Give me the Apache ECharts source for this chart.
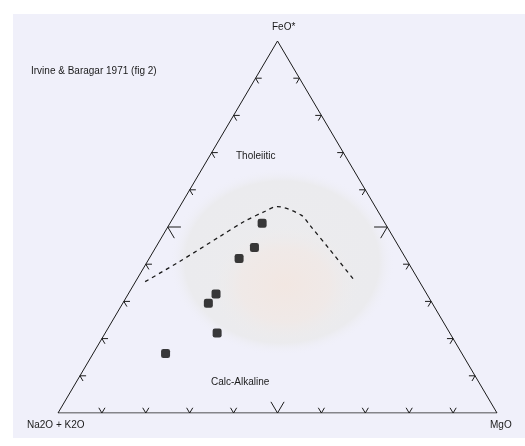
<!DOCTYPE html>
<html>
<head>
<meta charset="utf-8">
<script src="https://cdn.jsdelivr.net/npm/echarts@6/dist/echarts.min.js"></script>
<style>
  html, body { margin: 0; padding: 0; background: #fff; }
  #main { width: 525px; height: 446px; }
</style>
</head>
<body>
<div id="main"></div>
<script>
// AFM samples: Na2O+K2O (A), FeO* (F), MgO (M), in %
const sampleA = [28, 33, 38, 48, 51, 53, 67.5];
const sampleF = [51, 44.5, 41.5, 32, 29.5, 21.5, 16];
const sampleM = [21, 22.5, 20.5, 20, 19.5, 25.5, 16.5];

// Irvine & Baragar 1971 tholeiitic / calc-alkaline boundary
const lineA = [62.5, 52, 39.5, 32, 26, 22.3, 18, 17.4, 16.1, 14.7];
const lineF = [35.3, 40.7, 47.4, 51.4, 54.1, 55.5, 53.2, 50.5, 43.8, 35.8];
const lineM = [2.2, 7.3, 13.1, 16.6, 19.9, 22.2, 28.8, 32.1, 40.1, 49.5];

// tick positions along each side (%)
const tickValues = [10, 20, 30, 40, 50, 60, 70, 80, 90];

// ternary -> plane (x = M + F/2, y = F)
function tern(a, f, m) {
  const s = a + f + m;
  f = f / s * 100;
  m = m / s * 100;
  return [m + f / 2, f];
}

const samples = sampleA.map((a, i) => tern(a, sampleF[i], sampleM[i]));
const boundary = lineA.map((a, i) => tern(a, lineF[i], lineM[i]));
const outline = [tern(100, 0, 0), tern(0, 0, 100), tern(0, 100, 0), tern(100, 0, 0)];

// little chevrons on the sides, arms follow the other two grid directions
let ticks = [];
tickValues.forEach((t) => {
  const L = t === 50 ? 3 : 1.4;
  // bottom side (F = 0), M = t
  ticks.push([t - L / 2, L], [t, 0], [t + L / 2, L], '-');
  // left side (M = 0), F = t
  ticks.push([t / 2 + L, t], [t / 2, t], [t / 2 + L / 2, t - L], '-');
  // right side (A = 0), F = t
  ticks.push([100 - t / 2 - L, t], [100 - t / 2, t], [100 - t / 2 - L / 2, t - L], '-');
});

const txt = { fill: '#1a1a1a', fontFamily: 'Liberation Sans, Arial, sans-serif', fontSize: 10 };

let chart = echarts.init(document.getElementById('main'));
let option = {
  backgroundColor: '#ffffff',
  animation: false,
  grid: { left: 58, right: 28, top: 41, bottom: 33 },
  xAxis: { type: 'value', min: 0, max: 100, show: false },
  yAxis: { type: 'value', min: 0, max: 100, show: false },
  graphic: [
    { type: 'rect', z: -20, shape: { x: 13, y: 14, width: 512, height: 424 }, style: { fill: '#f0f0fa' } },
    {
      // scanned paper stain behind the plot
      type: 'circle', z: -12, x: 282, y: 262, scaleX: 1.2, scaleY: 1,
      shape: { cx: 0, cy: 0, r: 94 },
      style: {
        fill: new echarts.graphic.RadialGradient(0.5, 0.5, 0.5, [
          { offset: 0, color: 'rgba(236,236,238,1)' },
          { offset: 0.86, color: 'rgba(235,235,238,1)' },
          { offset: 1, color: 'rgba(240,240,250,0)' },
        ]),
      },
    },
    {
      type: 'circle', z: -11, x: 285, y: 285, scaleX: 1.2, scaleY: 1,
      shape: { cx: 0, cy: 0, r: 62 },
      style: {
        fill: new echarts.graphic.RadialGradient(0.5, 0.5, 0.5, [
          { offset: 0, color: 'rgba(242,231,226,1)' },
          { offset: 0.6, color: 'rgba(240,233,231,0.9)' },
          { offset: 1, color: 'rgba(236,236,238,0)' },
        ]),
      },
    },
    { type: 'text', left: 272, top: 22, style: Object.assign({ text: 'FeO*' }, txt) },
    { type: 'text', left: 31, top: 66, style: Object.assign({ text: 'Irvine & Baragar 1971 (fig 2)' }, txt) },
    { type: 'text', left: 236, top: 151, style: Object.assign({ text: 'Tholeiitic' }, txt) },
    { type: 'text', left: 211, top: 377, style: Object.assign({ text: 'Calc-Alkaline' }, txt) },
    { type: 'text', left: 27, top: 420, style: Object.assign({ text: 'Na2O + K2O' }, txt) },
    { type: 'text', left: 490, top: 420, style: Object.assign({ text: 'MgO' }, txt) },
  ],
  series: [
    {
      type: 'line',
      data: outline,
      symbol: 'none',
      lineStyle: { color: '#1a1a1a', width: 1 },
      silent: true,
    },
    {
      type: 'line',
      data: ticks,
      symbol: 'none',
      connectNulls: false,
      lineStyle: { color: '#1a1a1a', width: 1 },
      silent: true,
    },
    {
      type: 'line',
      data: boundary,
      symbol: 'none',
      smooth: 0.3,
      lineStyle: { color: '#1a1a1a', width: 1.3, type: [4, 4] },
      silent: true,
    },
    {
      type: 'scatter',
      data: samples,
      symbol: 'roundRect',
      symbolSize: 9,
      itemStyle: { color: '#0a0a0a' },
    },
  ],
};
chart.setOption(option);
</script>
</body>
</html>
